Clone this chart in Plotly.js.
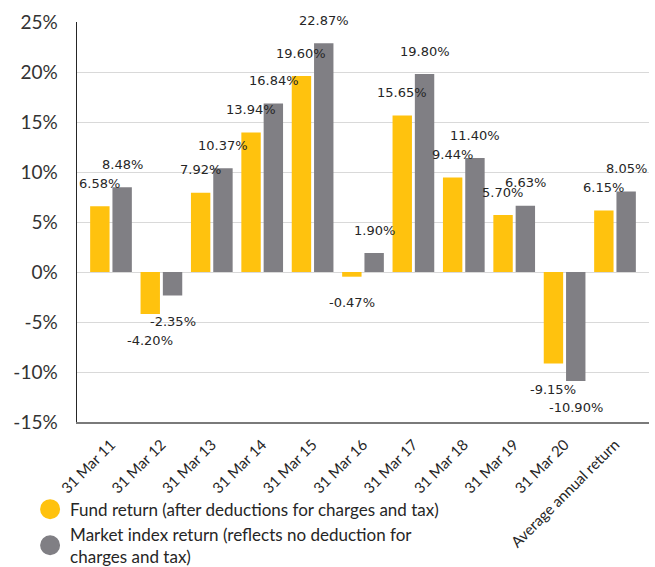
<!DOCTYPE html>
<html>
<head>
<meta charset="utf-8">
<script src="https://cdn.plot.ly/plotly-3.0.1.min.js"></script>
<style>html,body{margin:0;padding:0;background:#fff;}#chart{width:655px;height:567px;}</style>
</head>
<body>
<div id="chart"></div>
<script>
var categories = ['31 Mar 11','31 Mar 12','31 Mar 13','31 Mar 14','31 Mar 15','31 Mar 16','31 Mar 17','31 Mar 18','31 Mar 19','31 Mar 20','Average annual return'];
var fundReturn = [6.58, -4.20, 7.92, 13.94, 19.60, -0.47, 15.65, 9.44, 5.70, -9.15, 6.15];
var marketReturn = [8.48, -2.35, 10.37, 16.84, 22.87, 1.90, 19.80, 11.40, 6.63, -10.90, 8.05];
var fundName = 'Fund return (after deductions for charges and tax)';
var marketName = 'Market index return (reflects no deduction for<br>charges and tax)';
var yTicks = [-15, -10, -5, 0, 5, 10, 15, 20, 25];
var yTickText = ['-15%', '-10%', '-5%', '0%', '5%', '10%', '15%', '20%', '25%'];

var fundColor = '#FFC20E';
var marketColor = '#807F84';

var traces = [
  {type:'bar', x:categories, y:fundReturn, marker:{color:fundColor, line:{width:0}}, showlegend:false, hoverinfo:'x+y'},
  {type:'bar', x:categories, y:marketReturn, marker:{color:marketColor, line:{width:0}}, showlegend:false, hoverinfo:'x+y'},
  {type:'scatter', mode:'markers', x:[null], y:[null], name:fundName, marker:{symbol:'circle', size:16, color:fundColor, line:{color:fundColor, width:4}}},
  {type:'scatter', mode:'markers', x:[null], y:[null], name:marketName, marker:{symbol:'circle', size:16, color:marketColor, line:{color:marketColor, width:4}}}
];

var annotations = [];
function addLabels(vals, shift) {
  vals.forEach(function(v, i) {
    annotations.push({
      x: categories[i], y: v, xref:'x', yref:'y',
      text: v.toFixed(2) + '%',
      showarrow:false, xanchor:'center', yanchor:'middle',
      xshift: shift, yshift: v >= 0 ? 23 : -26,
      font:{family:'DejaVu Sans', size:13, color:'#262626'}
    });
  });
}
addLabels(fundReturn, -11.5);
addLabels(marketReturn, 11.5);

var layout = {
  width:655, height:567,
  margin:{l:77, r:5.5, t:22, b:145, autoexpand:false},
  paper_bgcolor:'#fff', plot_bgcolor:'#fff',
  barmode:'group', bargap:0.115, bargroupgap:0.13,
  xaxis:{
    type:'category', tickangle:-45, showgrid:false, automargin:false,
    showline:true, linecolor:'#7a7a7a', linewidth:2,
    ticks:'', tickfont:{family:'Lato', size:15, color:'#262626'},
    ticklabelstandoff:6
  },
  yaxis:{
    range:[-15, 25], tickmode:'array', tickvals:yTicks, ticktext:yTickText, automargin:false,
    showgrid:true, gridcolor:'#d9d9d9', gridwidth:1,
    zeroline:false, showline:true, linecolor:'#262626', linewidth:1.5,
    ticks:'', tickfont:{family:'Lato', size:19, color:'#333333'},
    ticklabelstandoff:14
  },
  legend:{
    x:-0.082, xanchor:'left', y:-0.174, yanchor:'top',
    orientation:'v', font:{family:'Lato', size:17, color:'#262626'},
    bgcolor:'rgba(0,0,0,0)', tracegroupgap:0, valign:'middle'
  },
  annotations: annotations,
  showlegend:true
};

Plotly.newPlot('chart', traces, layout, {displayModeBar:false, staticPlot:true});
</script>
</body>
</html>
